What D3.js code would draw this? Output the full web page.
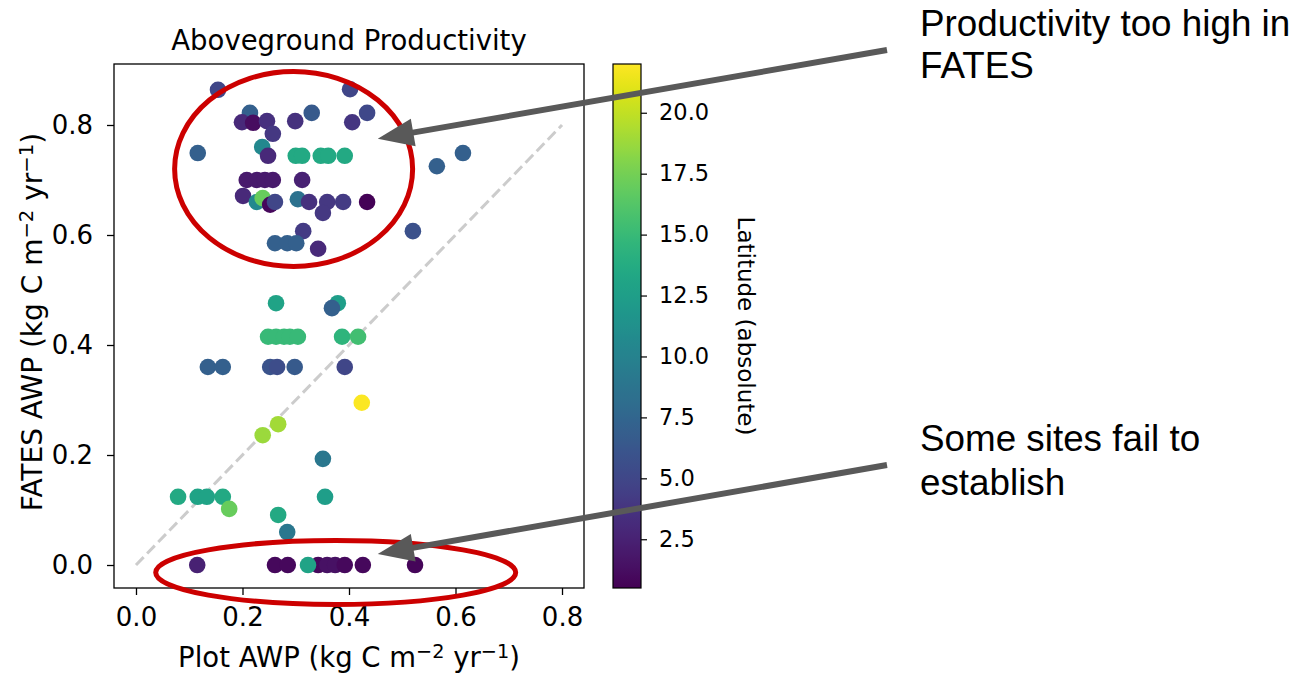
<!DOCTYPE html>
<html>
<head>
<meta charset="utf-8">
<script src="https://cdn.jsdelivr.net/npm/d3@7"></script>
<style>
  html, body { margin: 0; padding: 0; background: #ffffff; }
  svg { display: block; }
  .axis text { font-family: "DejaVu Sans", sans-serif; fill: #000; }
  .axis path, .axis line { stroke: #000; }
</style>
</head>
<body>
<svg id="chart" width="1299" height="674"></svg>
<script>
// Plot AWP (x), FATES AWP (y) and absolute latitude for each site
const plotAWP = [
  0.154, 0.214, 0.199, 0.220, 0.246, 0.257, 0.299, 0.330, 0.402, 0.406, 0.434,
  0.116, 0.237, 0.248, 0.300, 0.312, 0.347, 0.361, 0.392, 0.565, 0.614,
  0.208, 0.227, 0.242, 0.257, 0.312,
  0.201, 0.227, 0.238, 0.252, 0.261, 0.304, 0.325, 0.359, 0.389, 0.434,
  0.351, 0.314, 0.261, 0.284, 0.301, 0.342, 0.520,
  0.263, 0.379, 0.368, 0.248, 0.263, 0.278, 0.289, 0.304, 0.387, 0.417,
  0.135, 0.163, 0.252, 0.265, 0.298, 0.392,
  0.424, 0.267, 0.238, 0.351,
  0.079, 0.116, 0.133, 0.163, 0.175, 0.355, 0.267, 0.284,
  0.115, 0.261, 0.285, 0.342, 0.359, 0.374, 0.392, 0.426, 0.524, 0.323
];
const fatesAWP = [
  0.864, 0.822, 0.805, 0.804, 0.807, 0.784, 0.807, 0.822, 0.865, 0.805, 0.822,
  0.749, 0.760, 0.744, 0.744, 0.744, 0.744, 0.744, 0.744, 0.725, 0.749,
  0.700, 0.700, 0.700, 0.700, 0.700,
  0.671, 0.660, 0.667, 0.655, 0.660, 0.665, 0.660, 0.660, 0.660, 0.660,
  0.640, 0.607, 0.585, 0.585, 0.585, 0.575, 0.607,
  0.476, 0.476, 0.467, 0.415, 0.415, 0.415, 0.415, 0.415, 0.415, 0.415,
  0.360, 0.360, 0.360, 0.360, 0.360, 0.360,
  0.295, 0.256, 0.236, 0.193,
  0.124, 0.124, 0.124, 0.124, 0.102, 0.124, 0.091, 0.060,
  0.000, 0.000, 0.000, 0.000, 0.000, 0.000, 0.000, 0.000, 0.000, 0.000
];
const latitude = [
  5.0, 7.0, 3.0, 1.2, 3.5, 4.0, 3.6, 6.5, 5.0, 3.8, 5.2,
  7.0, 10.5, 3.0, 13.5, 13.5, 13.5, 13.5, 13.5, 7.0, 7.0,
  2.0, 2.0, 2.0, 2.0, 2.5,
  3.0, 10.5, 17.0, 1.0, 5.0, 8.5, 3.5, 4.0, 4.2, 0.6,
  4.0, 4.2, 7.0, 7.0, 7.0, 3.0, 5.8,
  13.0, 12.5, 7.0, 15.0, 15.0, 15.0, 15.0, 15.0, 14.5, 15.5,
  7.0, 7.0, 6.0, 5.5, 6.5, 5.0,
  21.9, 19.0, 18.8, 9.0,
  13.5, 13.0, 13.0, 13.5, 17.0, 12.5, 13.5, 9.0,
  2.5, 1.0, 1.0, 1.0, 1.5, 1.5, 1.0, 1.0, 0.8, 13.0
];

const axisTicks = [0.0, 0.2, 0.4, 0.6, 0.8];
const colorTicks = [2.5, 5.0, 7.5, 10.0, 12.5, 15.0, 17.5, 20.0];

const titleText = "Aboveground Productivity";
// unit string pieces: [text, isSuperscript]
const unitParts = [["(kg C m", false], ["\u22122", true], [" yr", false], ["\u22121", true], [")", false]];
const xLabelText = "Plot AWP ";
const yLabelText = "FATES AWP ";
const colorLabelText = "Latitude (absolute)";
const noteHigh = ["Productivity too high in", "FATES"];
const noteFail = ["Some sites fail to", "establish"];

// ---------------------------------------------------------------
const svg = d3.select("#chart");
const box = { left: 114, right: 584, top: 64, bottom: 588 };
const cbar = { left: 613, right: 641 };

const x = d3.scaleLinear().domain([-0.0413, 0.8413]).range([box.left, box.right]);
const y = d3.scaleLinear().domain([-0.0418, 0.9109]).range([box.bottom, box.top]);
const latDomain = [0.5, 22.0];
const c = d3.scaleSequential(d3.interpolateViridis).domain(latDomain);
const cy = d3.scaleLinear().domain(latDomain).range([box.bottom, box.top]);

// 1:1 reference line
svg.append("line")
  .attr("x1", x(0)).attr("y1", y(0))
  .attr("x2", x(0.8)).attr("y2", y(0.8))
  .attr("stroke", "#cccccc").attr("stroke-width", 3)
  .attr("stroke-dasharray", "11,5");

// site points
const sites = plotAWP.map((v, i) => ({ px: v, fy: fatesAWP[i], lat: latitude[i] }));
svg.append("g").selectAll("circle")
  .data(sites).join("circle")
  .attr("cx", d => x(d.px))
  .attr("cy", d => y(d.fy))
  .attr("r", 8.3)
  .attr("fill", d => c(d.lat));

// axes frame
svg.append("rect")
  .attr("x", box.left).attr("y", box.top)
  .attr("width", box.right - box.left).attr("height", box.bottom - box.top)
  .attr("fill", "none").attr("stroke", "#000").attr("stroke-width", 1.3);

const xAxis = svg.append("g").attr("class", "axis")
  .attr("transform", `translate(0,${box.bottom})`)
  .call(d3.axisBottom(x).tickValues(axisTicks).tickFormat(d3.format(".1f"))
    .tickSize(7).tickPadding(13).tickSizeOuter(0));
xAxis.select(".domain").remove();
xAxis.selectAll("text").attr("font-size", 26);
xAxis.selectAll("line").attr("stroke-width", 1.3);

const yAxis = svg.append("g").attr("class", "axis")
  .attr("transform", `translate(${box.left},0)`)
  .call(d3.axisLeft(y).tickValues(axisTicks).tickFormat(d3.format(".1f"))
    .tickSize(7).tickPadding(14).tickSizeOuter(0));
yAxis.select(".domain").remove();
yAxis.selectAll("text").attr("font-size", 26);
yAxis.selectAll("line").attr("stroke-width", 1.3);

// label with raised exponents
function unitLabel(sel, lead) {
  sel.append("tspan").text(lead);
  unitParts.forEach(([s, sup]) => {
    if (sup) {
      sel.append("tspan").attr("font-size", "0.7em").attr("baseline-shift", "45%").text(s);
    } else {
      sel.append("tspan").text(s);
    }
  });
}

// title and axis labels
svg.append("text")
  .attr("x", (box.left + box.right) / 2).attr("y", 50)
  .attr("text-anchor", "middle")
  .attr("font-family", "DejaVu Sans").attr("font-size", 27.5)
  .text(titleText);

svg.append("text")
  .attr("x", (box.left + box.right) / 2).attr("y", 667)
  .attr("text-anchor", "middle")
  .attr("font-family", "DejaVu Sans").attr("font-size", 27.5)
  .call(unitLabel, xLabelText);

svg.append("text")
  .attr("transform", `translate(42,${(box.top + box.bottom) / 2 - 4}) rotate(-90)`)
  .attr("text-anchor", "middle")
  .attr("font-family", "DejaVu Sans").attr("font-size", 28)
  .call(unitLabel, yLabelText);

// colour bar
const defs = svg.append("defs");
const grad = defs.append("linearGradient").attr("id", "viridisBar")
  .attr("x1", 0).attr("y1", 1).attr("x2", 0).attr("y2", 0);
d3.range(0, 1.0001, 0.02).forEach(t => {
  grad.append("stop").attr("offset", t).attr("stop-color", d3.interpolateViridis(t));
});
svg.append("rect")
  .attr("x", cbar.left).attr("y", cy(latDomain[1]))
  .attr("width", cbar.right - cbar.left)
  .attr("height", cy(latDomain[0]) - cy(latDomain[1]))
  .attr("fill", "url(#viridisBar)")
  .attr("stroke", "#000").attr("stroke-width", 1.2);

const cAxis = svg.append("g").attr("class", "axis")
  .attr("transform", `translate(${cbar.right},0)`)
  .call(d3.axisRight(cy).tickValues(colorTicks).tickFormat(d3.format(".1f"))
    .tickSize(6).tickPadding(12).tickSizeOuter(0));
cAxis.select(".domain").remove();
cAxis.selectAll("text").attr("font-size", 22.5);
cAxis.selectAll("line").attr("stroke-width", 1.2);

svg.append("text")
  .attr("transform", `translate(738,${(box.top + box.bottom) / 2}) rotate(90)`)
  .attr("text-anchor", "middle")
  .attr("font-family", "DejaVu Sans").attr("font-size", 23)
  .text(colorLabelText);

// highlighted groups
const ring = svg.append("g").attr("fill", "none").attr("stroke", "#cc0000").attr("stroke-width", 5);
ring.append("ellipse")
  .attr("cx", x(0.296)).attr("cy", y(0.72)).attr("rx", 119).attr("ry", 97.5);
ring.append("ellipse")
  .attr("cx", x(0.375)).attr("cy", y(-0.0136)).attr("rx", 180).attr("ry", 32);

// call-out arrows, each ending at a point in data space
function arrow(sx, sy, tx, ty) {
  const dx = tx - sx, dy = ty - sy, len = Math.hypot(dx, dy);
  const ux = dx / len, uy = dy / len, nx = -uy, ny = ux;
  const L = 36, W = 14;
  const bx = tx - ux * L, by = ty - uy * L;
  const g = svg.append("g");
  g.append("line").attr("x1", sx).attr("y1", sy).attr("x2", bx + ux * 2).attr("y2", by + uy * 2)
    .attr("stroke", "#595959").attr("stroke-width", 6);
  g.append("polygon")
    .attr("points", [[tx, ty], [bx + nx * W, by + ny * W], [bx - nx * W, by - ny * W]].map(p => p.join(",")).join(" "))
    .attr("fill", "#595959");
}
arrow(887, 50, x(0.454), y(0.775));
arrow(887, 465, x(0.454), y(0.020));

// notes
function note(lines, x0, baselines) {
  const t = svg.append("text").attr("font-family", "Liberation Sans, Arial, sans-serif")
    .attr("font-size", 36.8).attr("fill", "#000");
  lines.forEach((s, i) => t.append("tspan").attr("x", x0).attr("y", baselines[i]).text(s));
}
note(noteHigh, 920, [36, 78]);
note(noteFail, 920, [451, 495]);
</script>
</body>
</html>
